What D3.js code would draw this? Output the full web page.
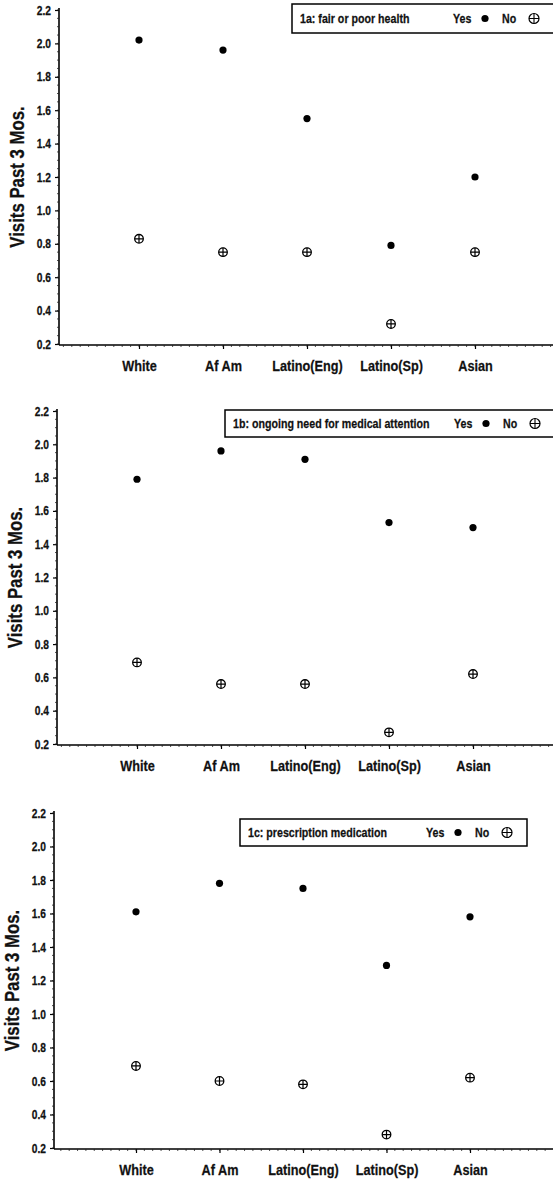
<!DOCTYPE html>
<html>
<head>
<meta charset="utf-8">
<script src="https://cdn.jsdelivr.net/npm/d3@7"></script>
<style>
  body { margin: 0; background: #fff; }
  svg { display: block; }
  text { font-family: "Liberation Sans", Arial, sans-serif; font-weight: bold; fill: #111; stroke: #111; stroke-width: 0.25px; }
</style>
</head>
<body>
<div id="chart"></div>
<script>
// categories and values
var categories = ["White", "Af Am", "Latino(Eng)", "Latino(Sp)", "Asian"];
var yTicks = [0.2, 0.4, 0.6, 0.8, 1.0, 1.2, 1.4, 1.6, 1.8, 2.0, 2.2];

var yes1a = [2.02, 1.96, 1.55, 0.79, 1.20];
var no1a  = [0.83, 0.75, 0.75, 0.32, 0.75];
var yes1b = [1.79, 1.96, 1.91, 1.53, 1.50];
var no1b  = [0.69, 0.56, 0.56, 0.27, 0.62];
var yes1c = [1.61, 1.78, 1.75, 1.29, 1.58];
var no1c  = [0.69, 0.60, 0.58, 0.28, 0.62];

var titles = ["1a: fair or poor health", "1b: ongoing need for medical attention", "1c: prescription medication"];

// panel layout
var panels = [
  { yes: yes1a, no: no1a, title: titles[0], ax: 59, top: 10, bottom: 344, x0: 139, x1: 475,
    box: [292, 4, 270, 29], yesX: 453, noX: 502 },
  { yes: yes1b, no: no1b, title: titles[1], ax: 57, top: 411, bottom: 744, x0: 137, x1: 473,
    box: [225, 410, 340, 27], yesX: 454, noX: 503 },
  { yes: yes1c, no: no1c, title: titles[2], ax: 54, top: 813, bottom: 1148, x0: 136, x1: 470,
    box: [240, 819, 287, 27], yesX: 426, noX: 475 }
];

var W = 553, H = 1184;
var svg = d3.select("#chart").append("svg").attr("width", W).attr("height", H);

// squeeze text into a narrow face like the original
function narrow(sel, f) {
  sel.each(function () {
    var t = d3.select(this);
    var x = +t.attr("x") || 0;
    t.attr("x", x / f).attr("transform", (t.attr("transform") || "") + " scale(" + f + ",1)");
  });
}

panels.forEach(function (p) {
  var g = svg.append("g");
  var x = d3.scalePoint().domain(categories).range([p.x0, p.x1]);
  var y = d3.scaleLinear().domain([0.2, 2.2]).range([p.bottom, p.top]);

  // y axis
  var yAxis = d3.axisLeft(y).tickValues(yTicks).tickFormat(d3.format(".1f")).tickSize(4).tickPadding(4);
  var ya = g.append("g").attr("transform", "translate(" + p.ax + ",0)").call(yAxis);
  ya.select(".domain").attr("stroke-width", 1.6).attr("d", "M0," + (p.top - 2) + "V" + (p.bottom + 1));
  ya.selectAll(".tick line").attr("stroke-width", 1.2);
  ya.selectAll(".tick text").style("font-size", "12.5px").call(narrow, 0.82);

  // y minor ticks
  var minor = d3.range(0.2, 2.2001, 0.05);
  g.selectAll(".yminor").data(minor).enter().append("line")
    .attr("x1", p.ax - 2).attr("x2", p.ax)
    .attr("y1", function (d) { return y(d); }).attr("y2", function (d) { return y(d); })
    .attr("stroke", "#222").attr("stroke-width", 0.8);

  // x axis
  var xAxis = d3.axisBottom(x).tickSize(4).tickPadding(11);
  var xa = g.append("g").attr("transform", "translate(0," + (p.bottom + 1) + ")").call(xAxis);
  xa.select(".domain").attr("stroke-width", 1.6).attr("d", "M" + p.ax + ",0H" + W);
  xa.selectAll(".tick line").attr("stroke-width", 1.2);
  xa.selectAll(".tick text").style("font-size", "15.5px").call(narrow, 0.82);

  // x minor ticks
  var st = x.step() / 10;
  var xm = [];
  for (var v = p.x0; v > p.ax; v -= st) xm.push(v);
  for (var v2 = p.x0 + st; v2 < W; v2 += st) xm.push(v2);
  g.selectAll(".xminor").data(xm).enter().append("line")
    .attr("x1", function (d) { return d; }).attr("x2", function (d) { return d; })
    .attr("y1", p.bottom + 1).attr("y2", p.bottom + 3)
    .attr("stroke", "#222").attr("stroke-width", 0.8);

  // axis title
  g.append("text")
    .attr("transform", "translate(" + (p.ax - 35) + "," + ((p.top + p.bottom) / 2) + ") rotate(-90)")
    .attr("text-anchor", "middle")
    .style("font-size", "20px")
    .text("Visits Past 3 Mos.")
    .call(narrow, 0.84);

  // Yes points
  g.selectAll(".yes").data(p.yes).enter().append("circle")
    .attr("cx", function (d, i) { return x(categories[i]); })
    .attr("cy", function (d) { return y(d); })
    .attr("r", 3.6).attr("fill", "#000");

  // No points (circle with cross)
  var nog = g.selectAll(".no").data(p.no).enter().append("g")
    .attr("transform", function (d, i) { return "translate(" + x(categories[i]) + "," + y(d) + ")"; });
  nog.append("circle").attr("r", 4.3).attr("fill", "none").attr("stroke", "#000").attr("stroke-width", 1.3);
  nog.append("path").attr("d", "M-4.3,0H4.3M0,-4.3V4.3").attr("stroke", "#000").attr("stroke-width", 1.2);

  // legend
  var b = p.box;
  g.append("rect").attr("x", b[0]).attr("y", b[1]).attr("width", b[2]).attr("height", b[3])
    .attr("fill", "#fff").attr("stroke", "#000").attr("stroke-width", 1.5);
  var ty = b[1] + b[3] / 2 + 4.5;
  var lt = g.append("g");
  lt.append("text").attr("x", b[0] + 8).attr("y", ty).style("font-size", "13px").text(p.title);
  lt.append("text").attr("x", p.yesX).attr("y", ty).style("font-size", "13px").text("Yes");
  lt.append("text").attr("x", p.noX).attr("y", ty).style("font-size", "13px").text("No");
  lt.selectAll("text").call(narrow, 0.82);
  g.append("circle").attr("cx", p.yesX + 32).attr("cy", ty - 4.5).attr("r", 3.6).attr("fill", "#000");
  var lg = g.append("g").attr("transform", "translate(" + (p.noX + 32) + "," + (ty - 4.5) + ")");
  lg.append("circle").attr("r", 5).attr("fill", "none").attr("stroke", "#000").attr("stroke-width", 1.2);
  lg.append("path").attr("d", "M-5,0H5M0,-5V5").attr("stroke", "#000").attr("stroke-width", 1.1);
});
</script>
</body>
</html>
